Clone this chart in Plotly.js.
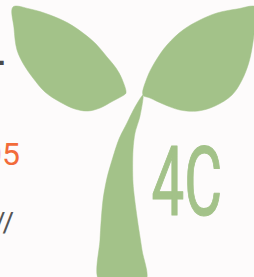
<!DOCTYPE html>
<html>
<head>
<meta charset="utf-8">
<script src="https://cdn.plot.ly/plotly-3.0.1.min.js"></script>
<style>
html,body{margin:0;padding:0;background:#fdfbfb;}
#chart{width:254px;height:277px;}
</style>
</head>
<body>
<div id="chart"></div>
<script>
// Outline points (pixel space, y downwards)
const leftLeafX = [13, 30, 50, 68, 83, 96, 107, 116, 122, 126, 124, 113, 100, 88, 75, 60, 45, 33, 24, 17, 14, 13];
const leftLeafY = [7, 9, 15, 23, 33, 44, 57, 68, 79, 93, 95, 101, 108, 111, 109, 102, 92, 78, 65, 50, 28, 7];

const rightLeafX = [143, 147, 155, 167, 183, 200, 217, 237, 256, 255, 253, 249, 242, 232, 215, 198, 180, 163, 150, 143];
const rightLeafY = [95, 78, 62, 45, 30, 20, 13, 9, 7, 25, 42, 62, 80, 95, 106, 111, 110, 104, 98, 95];

const stemX = [143, 135, 127, 119, 113, 107, 103, 100, 99, 146, 142, 137, 133, 133, 135, 140, 143];
const stemY = [95, 107, 123, 139, 157, 178, 200, 240, 280, 280, 250, 217, 183, 150, 133, 116, 95];

const logoText = "4C";
const yearText = "05";
const dashText = "-";
const urlText = "//";

const green = "#a3c289";
const bg = "#fdfbfb";

const traces = [
  {x: leftLeafX, y: leftLeafY, mode: "lines", fill: "toself", fillcolor: green,
   line: {color: green, width: 0.5, shape: "spline", smoothing: 1}, hoverinfo: "skip"},
  {x: rightLeafX, y: rightLeafY, mode: "lines", fill: "toself", fillcolor: green,
   line: {color: green, width: 0.5, shape: "spline", smoothing: 1}, hoverinfo: "skip"},
  {x: stemX, y: stemY, mode: "lines", fill: "toself", fillcolor: green,
   line: {color: green, width: 0.5, shape: "spline", smoothing: 0.8}, hoverinfo: "skip"}
];

const layout = {
  width: 254, height: 277,
  margin: {l: 0, r: 0, t: 0, b: 0},
  paper_bgcolor: bg, plot_bgcolor: bg,
  showlegend: false,
  xaxis: {range: [0, 254], visible: false, fixedrange: true},
  yaxis: {range: [277, 0], visible: false, fixedrange: true},
  annotations: [
    {x: 187, y: 182, xref: "x", yref: "y", text: logoText, showarrow: false,
     xanchor: "center", yanchor: "middle",
     font: {family: "Roboto, sans-serif", size: 97, weight: 400, color: green}},
    {x: 22, y: 154, xref: "x", yref: "y", text: yearText, showarrow: false,
     xanchor: "right", yanchor: "middle",
     font: {family: "Roboto, sans-serif", size: 32, color: "#f26b3a"}},
    {x: 8, y: 62, xref: "x", yref: "y", text: dashText, showarrow: false,
     xanchor: "right", yanchor: "middle",
     font: {family: "Roboto, sans-serif", size: 38, weight: 700, color: "#4a4a4a"}},
    {x: 16, y: 222, xref: "x", yref: "y", text: urlText, showarrow: false,
     xanchor: "right", yanchor: "middle",
     font: {family: "Roboto, sans-serif", size: 28, color: "#555555"}}
  ]
};

Plotly.newPlot("chart", traces, layout, {staticPlot: true, displayModeBar: false}).then(function () {
  // condense the logo lettering horizontally (narrow typeface look)
  const t = document.querySelector("#chart .annotation-text");
  if (t) {
    const b = t.getBBox();
    const cx = b.x + b.width / 2;
    t.setAttribute("transform", "translate(" + cx + ",0) scale(0.6,1) translate(" + (-cx) + ",0)");
    t.style.stroke = green;
    t.style.strokeWidth = "1.2px";
    t.style.strokeLinejoin = "round";
  }
});
</script>
</body>
</html>
